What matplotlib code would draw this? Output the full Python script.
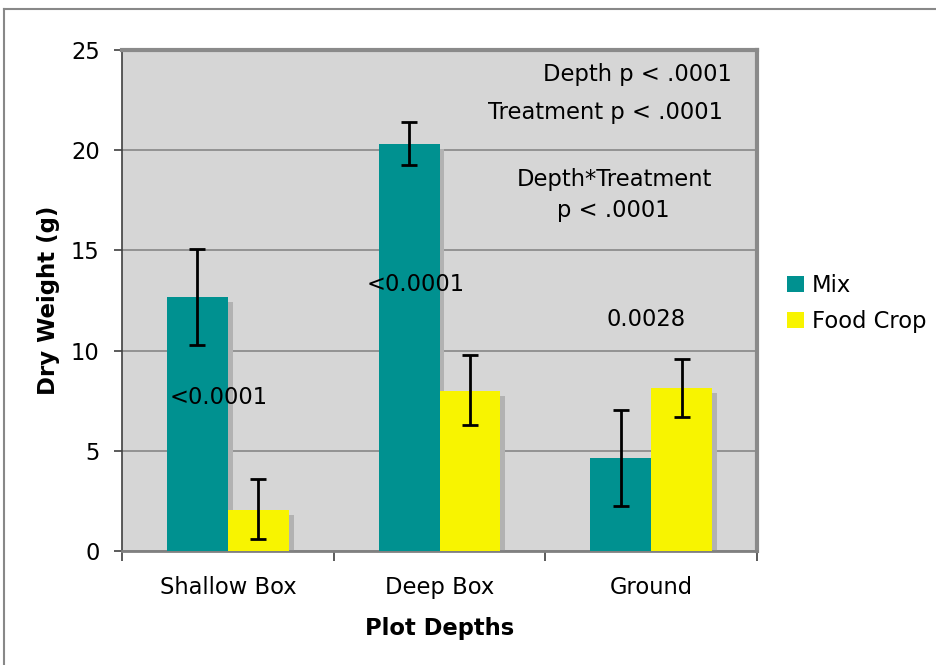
import matplotlib
matplotlib.use("Agg")
import matplotlib.pyplot as plt
import numpy as np
from matplotlib.patches import Rectangle, Patch
from matplotlib.lines import Line2D

categories = ["Shallow Box", "Deep Box", "Ground"]
mix = [12.67, 20.31, 4.64]
mix_lo = [10.28, 19.26, 2.25]
mix_hi = [15.07, 21.4, 7.04]
food = [2.05, 7.98, 8.13]
food_lo = [0.6, 6.29, 6.69]
food_hi = [3.6, 9.78, 9.58]
pair_labels = ["<0.0001", "<0.0001", "0.0028"]
yticks = [0, 5, 10, 15, 20, 25]

teal = "#009190"
yellow = "#F8F400"
bg = "#D6D6D6"
fs = 16.3

fig = plt.figure(figsize=(9.36, 6.65), dpi=100)
ax = fig.add_axes([122/936, 114/665, 635/936, 501/665])
ax.set_facecolor(bg)
ax.set_xlim(-0.5, 2.5)
ax.set_ylim(0, 25)

x = np.arange(len(categories))
w = 0.288
dx = 5/211.67
dy = 5/20.04
for xs, vals in ((x - w/2, mix), (x + w/2, food)):
    for xi, v in zip(xs, vals):
        ax.add_patch(Rectangle((xi - w/2 + dx, 0), w, max(v - dy, 0),
                               facecolor="#B2B2B2", edgecolor="none", zorder=2))
ax.bar(x - w/2, mix, w, color=teal, zorder=3)
ax.bar(x + w/2, food, w, color=yellow, zorder=3)

m = np.array(mix); f = np.array(food)
ax.errorbar(x - w/2, m, yerr=[m - np.array(mix_lo), np.array(mix_hi) - m],
            fmt="none", ecolor="black", elinewidth=2, capsize=6, capthick=2, zorder=4)
ax.errorbar(x + w/2, f, yerr=[f - np.array(food_lo), np.array(food_hi) - f],
            fmt="none", ecolor="black", elinewidth=2, capsize=6, capthick=2, zorder=4)

ax.set_yticks(yticks)
ax.yaxis.grid(True, color="#808080", linewidth=1.1, zorder=1)
ax.set_axisbelow(True)
ax.set_xticks([-0.5, 0.5, 1.5, 2.5])
ax.set_xticklabels([])
ax.set_xticks(x, minor=True)
ax.set_xticklabels(categories, minor=True, fontsize=fs)
ax.tick_params(axis="x", which="minor", length=0, pad=18)
ax.tick_params(axis="x", which="major", length=7, width=1.2, color="#404040", direction="out")
ax.tick_params(axis="y", length=6, width=1.2, color="#404040", labelsize=fs, pad=10)

for s in ("top", "right"):
    ax.spines[s].set_color("#8a8a8a")
    ax.spines[s].set_linewidth(3)
ax.spines["left"].set_color("#404040")
ax.spines["left"].set_linewidth(1.2)
ax.spines["bottom"].set_color("#808080")
ax.spines["bottom"].set_linewidth(2)

ax.set_ylabel("Dry Weight (g)", fontsize=16.5, fontweight="bold", labelpad=8)
ax.set_xlabel("Plot Depths", fontsize=16.3, fontweight="bold", labelpad=13)

ax.text(0.812, 0.951, "Depth p < .0001", transform=ax.transAxes, ha="center", va="center", fontsize=fs)
ax.text(0.761, 0.875, "Treatment p < .0001", transform=ax.transAxes, ha="center", va="center", fontsize=fs)
ax.text(0.776, 0.741, "Depth*Treatment", transform=ax.transAxes, ha="center", va="center", fontsize=fs)
ax.text(0.773, 0.679, "p < .0001", transform=ax.transAxes, ha="center", va="center", fontsize=fs)

label_y = [7.68, 13.32, 11.53]
label_x = [-0.042, 0.889, 1.976]
for lx, ly, t in zip(label_x, label_y, pair_labels):
    ax.text(lx, ly, t, ha="center", va="center", fontsize=fs, zorder=5)

handles = [Patch(facecolor=teal, edgecolor="none"), Patch(facecolor=yellow, edgecolor="none")]
fig.legend(handles, ["Mix", "Food Crop"], loc="center left", bbox_to_anchor=(767/936, 1 - 303.5/665),
           frameon=False, fontsize=fs, handlelength=0.72, handleheight=0.72,
           handletextpad=0.35, labelspacing=0.58)

fig.add_artist(Line2D([4/936, 1], [1 - 9/665, 1 - 9/665], transform=fig.transFigure, color="#888888", lw=1.5))
fig.add_artist(Line2D([4/936, 4/936], [0, 1 - 9/665], transform=fig.transFigure, color="#888888", lw=1.5))

fig.savefig("out.png", dpi=100)
